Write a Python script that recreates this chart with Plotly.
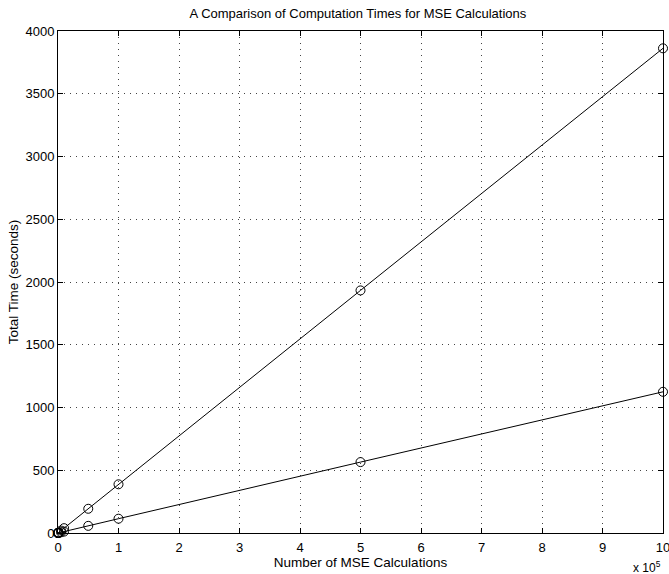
import plotly.graph_objects as go

# Data
n_calcs = [1, 10, 100, 1000, 5000, 10000, 50000, 100000, 500000, 1000000]
time_slow = [0.004, 0.04, 0.39, 3.9, 19.3, 38.6, 193, 388, 1933, 3862]
time_fast = [0.001, 0.011, 0.11, 1.1, 5.6, 11.2, 57, 114, 565, 1125]
x_tick_vals = [0, 100000, 200000, 300000, 400000, 500000, 600000, 700000, 800000, 900000, 1000000]
x_tick_text = ["0", "1", "2", "3", "4", "5", "6", "7", "8", "9", "10"]
y_tick_vals = [0, 500, 1000, 1500, 2000, 2500, 3000, 3500, 4000]

FONT = "Liberation Sans, Arial, Helvetica, sans-serif"

fig = go.Figure()
for ys in (time_slow, time_fast):
    fig.add_trace(go.Scatter(
        x=n_calcs, y=ys, mode="lines+markers",
        line=dict(color="black", width=1),
        marker=dict(symbol="circle-open", size=9, color="black", line=dict(width=1, color="black")),
        showlegend=False, cliponaxis=False, hoverinfo="skip",
    ))

axis_common = dict(
    showline=True, linecolor="black", linewidth=1, mirror="ticks",
    ticks="inside", ticklen=5, tickcolor="black",
    showgrid=True, gridcolor="#444444", griddash="1px,5px", gridwidth=1,
    zeroline=False, tickfont=dict(family=FONT, size=13, color="black"),
    automargin=False, ticklabeloverflow="allow",
)

fig.update_layout(
    width=669, height=574,
    paper_bgcolor="white", plot_bgcolor="white",
    margin=dict(l=58, r=6, t=31, b=41),
    title=dict(text="A Comparison of Computation Times for MSE Calculations",
               x=0.535, xanchor="center", y=0.977, yanchor="middle",
               font=dict(family=FONT, size=13, color="black")),
    xaxis=dict(range=[0, 1000000], tickvals=x_tick_vals, ticktext=x_tick_text,
               ticklabelstandoff=2,
               title=dict(text="Number of MSE Calculations", standoff=1,
                          font=dict(family=FONT, size=13.5, color="black")),
               **axis_common),
    yaxis=dict(range=[0, 4000], tickvals=y_tick_vals,
               title=dict(text="Total Time (seconds)", standoff=3,
                          font=dict(family=FONT, size=13.5, color="black")),
               **axis_common),
    annotations=[dict(text="x 10<sup>5</sup>", xref="paper", yref="paper",
                      x=1.0, y=-0.048, xanchor="right", yanchor="top", showarrow=False,
                      font=dict(family=FONT, size=12, color="black"))],
)

fig.write_html("out.html", config={"displayModeBar": False},
               post_script="document.body.style.margin='0';document.body.style.padding='0';")
